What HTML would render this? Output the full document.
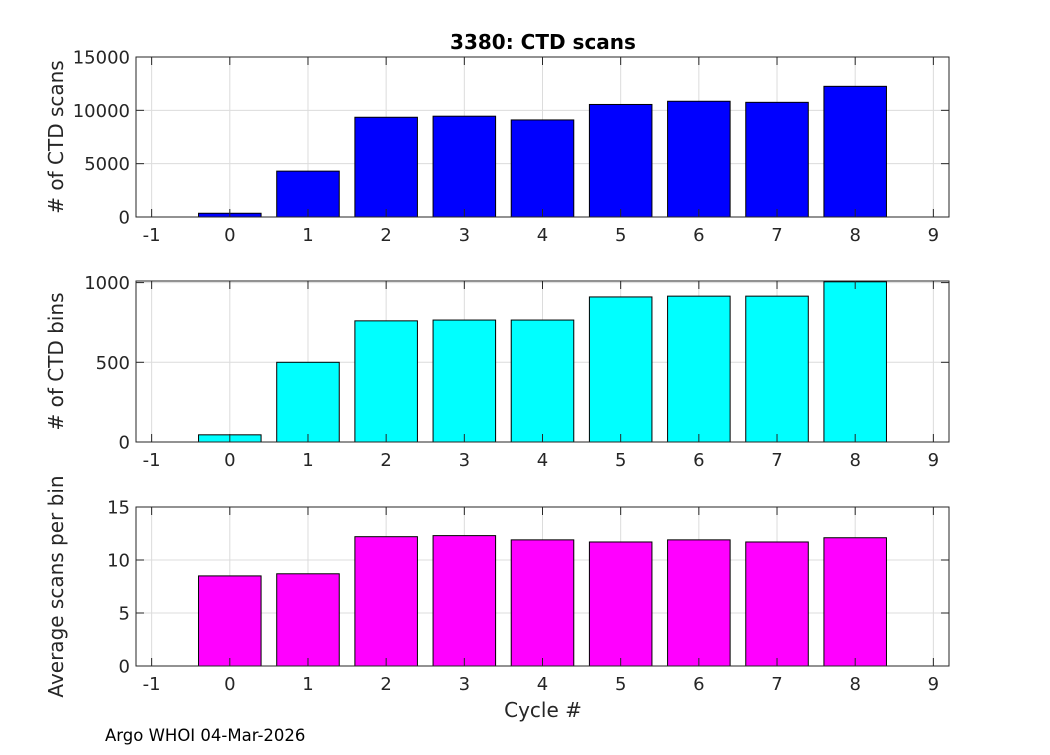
<!DOCTYPE html>
<html><head><meta charset="utf-8"><style>
body{margin:0;background:#fff;width:1050px;height:750px;overflow:hidden}
text{font-family:"DejaVu Sans","Liberation Sans",sans-serif;fill:#262626}
</style></head><body>
<svg id="c" width="1050" height="750" xmlns="http://www.w3.org/2000/svg"></svg>
<script>
const cycles=[0,1,2,3,4,5,6,7,8];
const scans=[350,4300,9350,9450,9100,10550,10850,10750,12250];
const bins=[45,500,760,765,765,910,915,915,1005];
const avg=[8.5,8.7,12.2,12.3,11.9,11.7,11.9,11.7,12.1];
const xTicks=[-1,0,1,2,3,4,5,6,7,8,9];
const ticksScans=[0,5000,10000,15000];
const ticksBins=[0,500,1000];
const ticksAvg=[0,5,10,15];
const NS="http://www.w3.org/2000/svg";
const svg=document.getElementById('c');
const L=136,R=949,X0=-1.2,X1=9.2;
const xs=v=>L+(v-X0)/(X1-X0)*(R-L);
function mk(t,a,p){const e=document.createElementNS(NS,t);for(const k in a)e.setAttribute(k,a[k]);(p||svg).appendChild(e);return e;}
function panel(name,top,bot,ymax,vals,ticks,color,ylab){
  const g=mk('g',{});
  
  
  const ys=v=>bot-v/ymax*(bot-top);
  xTicks.forEach(t=>mk('line',{x1:xs(t),x2:xs(t),y1:top,y2:bot,stroke:'#dcdcdc','stroke-width':1},g));
  ticks.forEach(t=>mk('line',{x1:L,x2:R,y1:ys(t),y2:ys(t),stroke:'#dcdcdc','stroke-width':1},g));
  vals.forEach((v,i)=>{const x=xs(cycles[i]-0.4),w=xs(0.8)-xs(0);
    const r=mk('rect',{x:x,y:ys(v),width:w,height:bot-ys(v),fill:color,stroke:'#000','stroke-width':1},g);
    
    });
  mk('rect',{x:L,y:top,width:R-L,height:bot-top,fill:'none',stroke:'#262626','stroke-width':1},g);
  xTicks.forEach(t=>{mk('line',{x1:xs(t),x2:xs(t),y1:bot,y2:bot-8,stroke:'#262626'},g);mk('line',{x1:xs(t),x2:xs(t),y1:top,y2:top+8,stroke:'#262626'},g);
    const tx=mk('text',{x:xs(t),y:bot+24,'text-anchor':'middle','font-size':18},g);tx.textContent=t;});
  ticks.forEach(t=>{mk('line',{x1:L,x2:L+8,y1:ys(t),y2:ys(t),stroke:'#262626'},g);mk('line',{x1:R,x2:R-8,y1:ys(t),y2:ys(t),stroke:'#262626'},g);
    const tx=mk('text',{x:L-6,y:ys(t)+6.5,'text-anchor':'end','font-size':18},g);tx.textContent=t;});
  const yl=mk('text',{x:0,y:0,'text-anchor':'middle','font-size':20,transform:`translate(${L-73},${(top+bot)/2}) rotate(-90)`},g);
  yl.textContent=ylab;
  
  
}
panel('scans',57,217,15000,scans,ticksScans,'#0000ff','# of CTD scans');
panel('bins',281,442,1010,bins,ticksBins,'#00ffff','# of CTD bins');
panel('avg',507,666,15,avg,ticksAvg,'#ff00ff','Average scans per bin');
const t=mk('text',{x:543,y:49,'text-anchor':'middle','font-size':20,'font-weight':'bold'});t.textContent='3380: CTD scans';t.style.fill='#000';


const xl=mk('text',{x:543,y:717,'text-anchor':'middle','font-size':20});xl.textContent='Cycle #';


const f=mk('text',{x:105,y:741,'font-size':16.5});f.textContent='Argo WHOI 04-Mar-2026';f.style.fill='#000';


</script>
</body></html>
